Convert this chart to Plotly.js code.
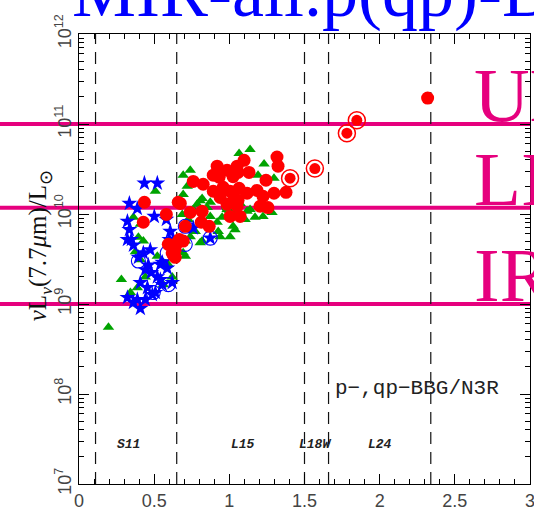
<!DOCTYPE html>
<html><head><meta charset="utf-8">
<script src="https://cdn.plot.ly/plotly-3.0.1.min.js"></script>
<style>html,body{margin:0;padding:0;background:#fff}#chart{width:534px;height:515px}</style>
</head><body><div id="chart"></div>
<script>
// ---- data (redshift z, nuL_nu(7.7um)/Lsun) ----
const starX = [0.435,0.521,0.335,0.388,0.501,0.581,0.335,0.348,0.322,0.362,0.607,0.601,0.428,0.461,0.481,0.541,0.587,0.521,0.408,0.455,0.508,0.554,0.620,0.362,0.408,0.441,0.488,0.322,0.395,0.474,0.388,0.541,0.441,0.627,0.760,0.873,0.554,0.322];
const starY = [2.2e10,2.2e10,1.31e10,1.15e10,9.4e9,8.7e9,6.7e9,5.2e9,5.2e9,4.5e9,6.4e9,5.2e9,3.7e9,2.7e9,2.24e9,2.75e9,2.5e9,2.0e9,1.73e9,1.52e9,1.34e9,1.64e9,1.73e9,1.04e9,8.9e8,1.12e9,1.27e9,8.3e9,3.3e9,4.0e9,1.12e9,1.87e9,2.4e9,5.2e9,7.0e9,5.4e9,2.9e9,1.18e9];
const blueRingX = [0.395,0.494,0.594,0.707,0.587,0.873,0.707];
const blueRingY = [3.0e9,1.34e9,1.64e9,4.6e9,3.7e9,5.4e9,7.3e9];
const triX = [1.065,1.138,0.740,0.693,0.508,1.191,1.297,0.720,0.819,0.873,1.005,1.072,1.118,1.171,1.224,1.284,0.985,0.952,0.919,1.025,1.038,0.926,0.873,0.760,0.727,0.760,0.806,0.740,0.674,0.693,0.521,0.362,0.408,0.395,0.428,0.375,0.408,0.594,0.441,0.620,0.561,0.342,0.388,0.196,0.707,0.707,0.819,0.773,0.687,0.806,1.005,0.939,1.138,1.105,1.018,0.853,0.786,0.693,0.282,1.231];
const triY = [4.7e10,5.2e10,3.06e10,2.7e10,1.79e10,2.7e10,2.5e10,2.03e10,1.49e10,1.35e10,1.79e10,1.31e10,1.07e10,9.2e9,9.4e9,1.04e10,1.12e10,9.2e9,8.1e9,7.3e9,6.7e9,6.4e9,9.4e9,1.12e10,8.7e9,6.7e9,4.8e9,5.6e9,4.8e9,3.7e9,3.4e9,9.2e9,7.7e9,5.5e9,5.0e9,3.8e9,3.1e9,2.75e9,2.0e9,2.0e9,1.64e9,1.34e9,1.52e9,5.5e8,5.0e9,3.4e9,5.0e9,6.4e9,9.9e9,1.4e10,5.6e9,5.6e9,1.12e10,8.7e9,1.04e10,1.18e10,1.28e10,1.65e10,1.87e9,3.6e10];
const greenRingX = [0.999];
const greenRingY = [1.22e10];
const dotX = [1.317,1.324,1.098,1.052,0.919,0.985,0.893,0.932,1.058,1.131,1.025,0.760,0.826,1.244,0.893,0.959,1.005,1.065,1.118,1.184,1.297,1.377,1.224,0.939,1.058,0.985,1.052,1.204,1.257,0.674,0.581,0.740,0.819,1.005,1.072,0.813,0.866,0.707,0.667,0.594,0.640,0.627,0.435,0.428,0.660,0.654,0.693,0.620,0.640,2.319];
const dotY = [4.3e10,3.4e10,3.95e10,3.4e10,3.4e10,3.06e10,2.7e10,2.56e10,2.9e10,2.9e10,2.6e10,2.3e10,2.14e10,2.37e10,1.79e10,1.98e10,1.79e10,1.93e10,1.70e10,1.83e10,1.70e10,1.74e10,1.57e10,1.53e10,1.42e10,1.28e10,1.22e10,1.22e10,1.18e10,1.31e10,9.9e9,1.04e10,1.07e10,9.4e9,9.4e9,8.1e9,7.3e9,7.3e9,5.2e9,4.6e9,4.0e9,3.5e9,1.35e10,8.1e9,1.35e10,4.8e9,5.0e9,3.7e9,3.3e9,1.94e11];
const redRingX = [1.404,1.569,1.782,1.848,1.025];
const redRingY = [2.5e10,3.2e10,7.9e10,1.10e11,1.53e10];

const classNames = ['ULIRG','LIRG','IRG'];
const classLimits = [1e11, 1.17e10, 1e9];
const filterEdges = [0.11, 0.65, 1.5, 1.66, 2.34];
const filterNames = ['S11','L15','L18W','L24'];
const filterLabelX = [0.33, 1.09, 1.57, 2.0];
const yTickVals = [1e7,1e8,1e9,1e10,1e11,1e12];
const yTickText = ['10<sup>7</sup>','10<sup>8</sup>','10<sup>9</sup>','10<sup>10</sup>','10<sup>11</sup>','10<sup>12</sup>'];
const xTickVals = [0,0.5,1,1.5,2,2.5,3];
const xTickText = ['0','0.5','1','1.5','2','2.5','3'];

const MAG = '#e6007e';
const traces = [
  {x: triX, y: triY, mode:'markers', type:'scatter', marker:{symbol:'triangle-up', size:10, color:'#00a300', line:{width:0}}},
  {x: greenRingX, y: greenRingY, mode:'markers', type:'scatter', marker:{symbol:'circle-open', size:15, color:'#00a300', line:{width:1.3}}},
  {x: starX, y: starY, mode:'markers', type:'scatter', marker:{symbol:'star', size:12, color:'#0000ff', line:{width:0}}},
  {x: blueRingX, y: blueRingY, mode:'markers', type:'scatter', marker:{symbol:'circle-open', size:14, color:'#0000ff', line:{width:1.1}}},
  {x: dotX, y: dotY, mode:'markers', type:'scatter', marker:{symbol:'circle', size:13, color:'#ff0000', line:{width:0}}},
  {x: redRingX, y: redRingY, mode:'markers', type:'scatter', marker:{symbol:'circle', size:11, color:'#ff0000', line:{width:0}}},
  {x: redRingX, y: redRingY, mode:'markers', type:'scatter', marker:{symbol:'circle-open', size:17, color:'#ff0000', line:{width:1.5}}}
];

const shapes = [];
classLimits.forEach(v => shapes.push({type:'line', xref:'paper', yref:'y', x0:-0.2, x1:1, y0:v, y1:v, line:{color:MAG, width:4}, layer:'below'}));
filterEdges.forEach(v => shapes.push({type:'line', xref:'x', yref:'paper', x0:v, x1:v, y0:0, y1:1, line:{color:'#111', width:1.2, dash:'12px,8px'}, layer:'below'}));

const annotations = [
  {xref:'paper', yref:'paper', x:-0.02, y:1.0, xanchor:'left', yanchor:'bottom', yshift:0, text:'MIR-all.p(qp)-BBG/N3R', showarrow:false, font:{family:'Liberation Serif', size:72, color:'#0000ff'}},
  {xref:'paper', yref:'paper', x:-0.087, y:0.53, xanchor:'center', yanchor:'middle', textangle:-90, showarrow:false, text:'<i>ν</i>L<sub><i>ν</i></sub>(7.7<i>μ</i>m)/L<sub>⊙</sub>', font:{family:'Liberation Serif', size:25, color:'#111'}},
  {xref:'paper', yref:'paper', x:0.563, y:0.213, xanchor:'left', yanchor:'middle', showarrow:false, text:'p−,qp−BBG/N3R', font:{family:'Liberation Mono', size:21, color:'#222'}}
];
classNames.forEach((n,i) => annotations.push({xref:'paper', yref:'y', x:0.871, y:Math.log10(classLimits[i]), xanchor:'left', yanchor:'bottom', yshift:-16, showarrow:false, text:n, font:{family:'Liberation Serif', size:77, color:MAG}}));
filterNames.forEach((n,i) => annotations.push({xref:'x', yref:'paper', x:filterLabelX[i], y:0.087, xanchor:'center', yanchor:'middle', showarrow:false, text:'<i><b>'+n+'</b></i>', font:{family:'Liberation Mono', size:13, color:'#222'}}));

const axisCommon = {showgrid:false, zeroline:false, showline:true, linecolor:'#000', linewidth:1.3, mirror:'allticks', ticks:'inside', tickcolor:'#000', tickwidth:1, ticklen:10, ticklabeloverflow:'allow', tickfont:{family:'Liberation Sans', size:18, color:'#444'}};
const layout = {
  width:534, height:515, margin:{l:79, r:4, t:34, b:31}, showlegend:false,
  paper_bgcolor:'#fff', plot_bgcolor:'#fff',
  xaxis: Object.assign({}, axisCommon, {range:[0,3], tickvals:xTickVals, ticktext:xTickText, minor:{ticks:'inside', ticklen:5, dtick:0.1, tickcolor:'#000'}}),
  yaxis: Object.assign({}, axisCommon, {type:'log', range:[7,12], tickvals:yTickVals, ticktext:yTickText, tickangle:-90, minor:{ticks:'inside', ticklen:5, dtick:'D1', tickcolor:'#000'}}),
  shapes: shapes, annotations: annotations
};
Plotly.newPlot('chart', traces, layout, {displayModeBar:false, staticPlot:true});
</script></body></html>
